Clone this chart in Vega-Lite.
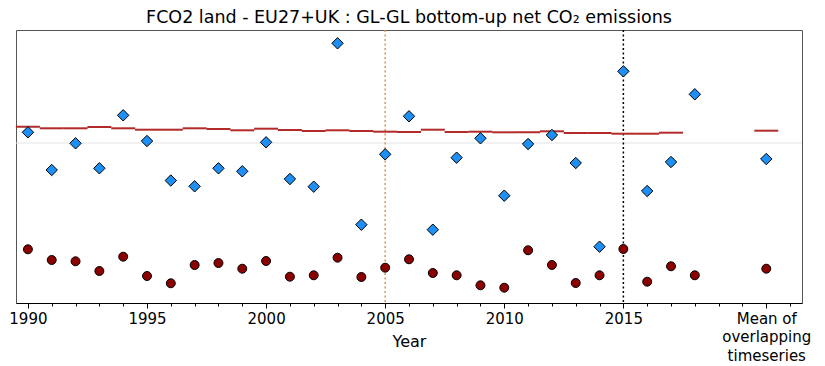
{
  "$schema": "https://vega.github.io/schema/vega-lite/v6.json",
  "width": 786,
  "height": 273,
  "autosize": {"type": "none"},
  "padding": {"left": 16, "top": 30, "right": 23, "bottom": 63},
  "background": "white",
  "title": {
    "text": "FCO2 land - EU27+UK : GL-GL bottom-up net CO₂ emissions",
    "font": "DejaVu Sans",
    "fontSize": 17.5,
    "fontWeight": "normal",
    "color": "black",
    "offset": 3
  },
  "config": {
    "font": "DejaVu Sans",
    "view": {"stroke": "#555", "strokeWidth": 1}
  },
  "datasets": {
    "net_flux": [
      {"year": 1990, "value": 10.7}, {"year": 1991, "value": -27}, {"year": 1992, "value": -0.3},
      {"year": 1993, "value": -25.3}, {"year": 1994, "value": 27.7}, {"year": 1995, "value": 2},
      {"year": 1996, "value": -37.5}, {"year": 1997, "value": -43.3}, {"year": 1998, "value": -25.3},
      {"year": 1999, "value": -28.3}, {"year": 2000, "value": 0.7}, {"year": 2001, "value": -36},
      {"year": 2002, "value": -43.7}, {"year": 2003, "value": 99.7}, {"year": 2004, "value": -81.7},
      {"year": 2005, "value": -11.3}, {"year": 2006, "value": 26.7}, {"year": 2007, "value": -86.7},
      {"year": 2008, "value": -14.7}, {"year": 2009, "value": 4.7}, {"year": 2010, "value": -52.7},
      {"year": 2011, "value": -1}, {"year": 2012, "value": 8}, {"year": 2013, "value": -20},
      {"year": 2014, "value": -103.7}, {"year": 2015, "value": 71.7}, {"year": 2016, "value": -48},
      {"year": 2017, "value": -19}, {"year": 2018, "value": 48.7}, {"year": 2021, "value": -16}
    ],
    "second_flux": [
      {"year": 1990, "value": -106.3}, {"year": 1991, "value": -117}, {"year": 1992, "value": -118.3},
      {"year": 1993, "value": -128}, {"year": 1994, "value": -113.7}, {"year": 1995, "value": -133},
      {"year": 1996, "value": -140.3}, {"year": 1997, "value": -122}, {"year": 1998, "value": -120},
      {"year": 1999, "value": -125.7}, {"year": 2000, "value": -118}, {"year": 2001, "value": -133.7},
      {"year": 2002, "value": -132.3}, {"year": 2003, "value": -114.7}, {"year": 2004, "value": -134},
      {"year": 2005, "value": -124.7}, {"year": 2006, "value": -116.3}, {"year": 2007, "value": -130},
      {"year": 2008, "value": -132.3}, {"year": 2009, "value": -142.3}, {"year": 2010, "value": -144.7},
      {"year": 2011, "value": -107.3}, {"year": 2012, "value": -122}, {"year": 2013, "value": -140},
      {"year": 2014, "value": -132.3}, {"year": 2015, "value": -106}, {"year": 2016, "value": -138.7},
      {"year": 2017, "value": -123.3}, {"year": 2018, "value": -132.3}, {"year": 2021, "value": -125.7}
    ],
    "reference_level": [
      {"year": 1990, "value": 16.3}, {"year": 1991, "value": 14.7}, {"year": 1992, "value": 14.7},
      {"year": 1993, "value": 16}, {"year": 1994, "value": 14.7}, {"year": 1995, "value": 13.3},
      {"year": 1996, "value": 13.3}, {"year": 1997, "value": 14.7}, {"year": 1998, "value": 14},
      {"year": 1999, "value": 12.7}, {"year": 2000, "value": 14.3}, {"year": 2001, "value": 13},
      {"year": 2002, "value": 12}, {"year": 2003, "value": 12.7}, {"year": 2004, "value": 12},
      {"year": 2005, "value": 11.3}, {"year": 2006, "value": 11}, {"year": 2007, "value": 13.3},
      {"year": 2008, "value": 11}, {"year": 2009, "value": 11.3}, {"year": 2010, "value": 10.7},
      {"year": 2011, "value": 10.7}, {"year": 2012, "value": 11.7}, {"year": 2013, "value": 10},
      {"year": 2014, "value": 10}, {"year": 2015, "value": 9.3}, {"year": 2016, "value": 9.3},
      {"year": 2017, "value": 10.3}, {"year": 2021, "value": 12.3}
    ],
    "markers": [
      {"year": 2005, "kind": "start"},
      {"year": 2015, "kind": "end"}
    ],
    "zero": [{"value": 0}]
  },
  "resolve": {"axis": {"x": "independent"}},
  "layer": [
    {
      "data": {"name": "zero"},
      "mark": {"type": "rule", "color": "#e3e3e3", "strokeWidth": 1},
      "encoding": {
        "y": {"field": "value", "type": "quantitative", "axis": null,
              "scale": {"domain": [-160, 113], "nice": false, "zero": false}}
      }
    },
    {
      "data": {"name": "markers"},
      "transform": [{"filter": "datum.kind == 'start'"}],
      "mark": {"type": "rule", "color": "#e8924a", "strokeWidth": 1.5, "strokeDash": [2, 2.5]},
      "encoding": {
        "x": {"field": "year", "type": "quantitative", "axis": null,
              "scale": {"domain": [1989.5, 2022.5], "nice": false, "zero": false}}
      }
    },
    {
      "data": {"name": "markers"},
      "transform": [{"filter": "datum.kind == 'end'"}],
      "mark": {"type": "rule", "color": "black", "strokeWidth": 1.5, "strokeDash": [2, 2.5]},
      "encoding": {
        "x": {"field": "year", "type": "quantitative", "axis": null,
              "scale": {"domain": [1989.5, 2022.5], "nice": false, "zero": false}}
      }
    },
    {
      "data": {"name": "reference_level"},
      "mark": {"type": "tick", "orient": "horizontal", "size": 24, "thickness": 2, "color": "#b22a2a", "opacity": 1},
      "encoding": {
        "x": {"field": "year", "type": "quantitative", "axis": null,
              "scale": {"domain": [1989.5, 2022.5], "nice": false, "zero": false}},
        "y": {"field": "value", "type": "quantitative", "axis": null,
              "scale": {"domain": [-160, 113], "nice": false, "zero": false}}
      }
    },
    {
      "data": {"name": "second_flux"},
      "mark": {"type": "point", "shape": "circle", "filled": true, "fill": "#8b0000", "stroke": "black", "strokeWidth": 1, "size": 80, "opacity": 1},
      "encoding": {
        "x": {"field": "year", "type": "quantitative",
              "scale": {"domain": [1989.5, 2022.5], "nice": false, "zero": false},
              "axis": {
                "orient": "bottom",
                "values": [1991, 1992, 1993, 1994, 1996, 1997, 1998, 1999, 2001, 2002, 2003, 2004, 2006, 2007, 2008, 2009, 2011, 2012, 2013, 2014, 2016, 2017, 2018, 2019, 2020, 2022],
                "labels": false, "domain": false, "grid": false,
                "ticks": true, "tickSize": 3, "tickColor": "black", "tickWidth": 1,
                "title": null
              }},
        "y": {"field": "value", "type": "quantitative", "axis": null,
              "scale": {"domain": [-160, 113], "nice": false, "zero": false}}
      }
    },
    {
      "data": {"name": "net_flux"},
      "mark": {"type": "point", "shape": "diamond", "filled": true, "fill": "#1e8ff5", "stroke": "black", "strokeWidth": 1, "size": 130, "opacity": 1},
      "encoding": {
        "x": {"field": "year", "type": "quantitative",
              "scale": {"domain": [1989.5, 2022.5], "nice": false, "zero": false},
              "axis": {
                "orient": "bottom",
                "values": [1990, 1995, 2000, 2005, 2010, 2015, 2021],
                "format": "d",
                "labelExpr": "datum.value == 2021 ? ['Mean of', 'overlapping', 'timeseries'] : datum.label",
                "labelFont": "DejaVu Sans", "labelFontSize": 15, "labelColor": "black",
                "labelPadding": 3, "labelLineHeight": 18.5, "labelOverlap": false, "labelFlush": false,
                "domain": true, "domainColor": "black", "domainWidth": 1,
                "ticks": true, "tickSize": 5, "tickColor": "black", "tickWidth": 1,
                "grid": false,
                "title": "Year", "titleFont": "DejaVu Sans", "titleFontSize": 16, "titleFontWeight": "normal",
                "titleColor": "black", "titleY": 30, "titleBaseline": "top"
              }},
        "y": {"field": "value", "type": "quantitative", "axis": null,
              "scale": {"domain": [-160, 113], "nice": false, "zero": false}}
      }
    }
  ]
}
